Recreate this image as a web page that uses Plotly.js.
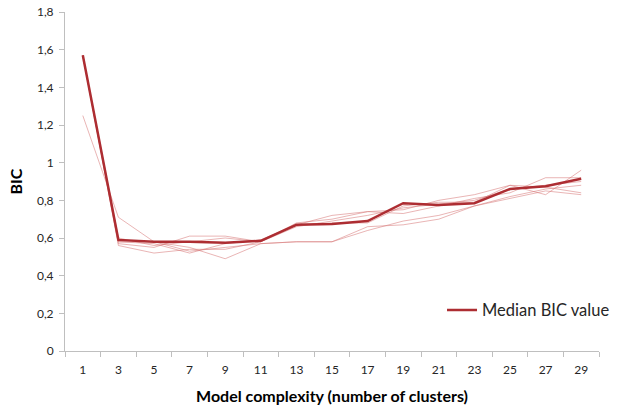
<!DOCTYPE html>
<html>
<head>
<meta charset="utf-8">
<script src="https://cdn.plot.ly/plotly-3.0.1.min.js"></script>
<style>html,body{margin:0;padding:0;background:#fff;}#chart{width:627px;height:405px;}</style>
</head>
<body>
<div id="chart"></div>
<script>
const clusters = ['1','3','5','7','9','11','13','15','17','19','21','23','25','27','29'];
const runA = [1.25,0.71,0.58,0.55,0.49,0.57,0.58,0.58,0.66,0.67,0.70,0.77,0.82,0.86,0.88];
const runB = [1.57,0.56,0.52,0.54,0.54,0.58,0.67,0.72,0.74,0.75,0.80,0.83,0.88,0.87,0.84];
const runC = [1.57,0.57,0.55,0.61,0.61,0.58,0.68,0.70,0.74,0.73,0.77,0.81,0.84,0.92,0.92];
const runD = [1.57,0.58,0.57,0.52,0.57,0.59,0.67,0.68,0.68,0.77,0.79,0.79,0.88,0.83,0.96];
const runE = [1.57,0.60,0.56,0.58,0.60,0.58,0.66,0.69,0.72,0.76,0.78,0.80,0.86,0.88,0.90];
const runF = [1.57,0.58,0.58,0.53,0.55,0.57,0.58,0.58,0.64,0.69,0.72,0.77,0.81,0.85,0.83];
const medianBIC = [1.57,0.59,0.58,0.58,0.575,0.585,0.67,0.675,0.69,0.785,0.775,0.785,0.86,0.875,0.915];
const yTicks = [0,0.2,0.4,0.6,0.8,1,1.2,1.4,1.6,1.8];

const thin = [runA,runB,runC,runD,runE,runF].map(v => ({
  x: clusters, y: v, type: 'scatter', mode: 'lines', showlegend: false,
  line: {color: 'rgba(215,120,120,0.55)', width: 1}, hoverinfo: 'skip'
}));
const med = {
  x: clusters, y: medianBIC, type: 'scatter', mode: 'lines', name: 'Median BIC value',
  line: {color: '#ad2d32', width: 2.5}
};

const fam = 'Lato, "Open Sans", sans-serif';
Plotly.newPlot('chart', thin.concat([med]), {
  width: 627, height: 405,
  margin: {l: 65, r: 21, t: 12, b: 54},
  paper_bgcolor: '#fff', plot_bgcolor: '#fff',
  separators: ', ',
  font: {family: fam, size: 12, color: '#262626'},
  showlegend: true,
  legend: {x: 1.03, y: 0.12, xanchor: 'right', yanchor: 'middle', bgcolor: 'rgba(0,0,0,0)',
           font: {size: 16.5, color: '#262626', family: fam}, itemwidth: 30},
  xaxis: {
    type: 'category', range: [-0.5, 14.5], showgrid: false, zeroline: false,
    showline: true, linecolor: '#bfbfbf', linewidth: 1,
    ticks: 'outside', tickson: 'boundaries', ticklen: 5, tickcolor: '#bfbfbf',
    ticklabelstandoff: 8,
    tickfont: {size: 12, color: '#262626'},
    title: {text: '<b>Model complexity (number of clusters)</b>', font: {size: 16, color: '#000'}, standoff: 14}
  },
  yaxis: {
    range: [0, 1.8], tickvals: yTicks, showgrid: false, zeroline: false,
    showline: true, linecolor: '#bfbfbf', linewidth: 1,
    ticks: 'outside', ticklen: 5, tickcolor: '#bfbfbf',
    ticklabelstandoff: 3,
    tickfont: {size: 12, color: '#262626'},
    title: {text: '<b>BIC</b>', font: {size: 16, color: '#000'}, standoff: 10}
  }
}, {displayModeBar: false, staticPlot: true});
</script>
</body>
</html>
